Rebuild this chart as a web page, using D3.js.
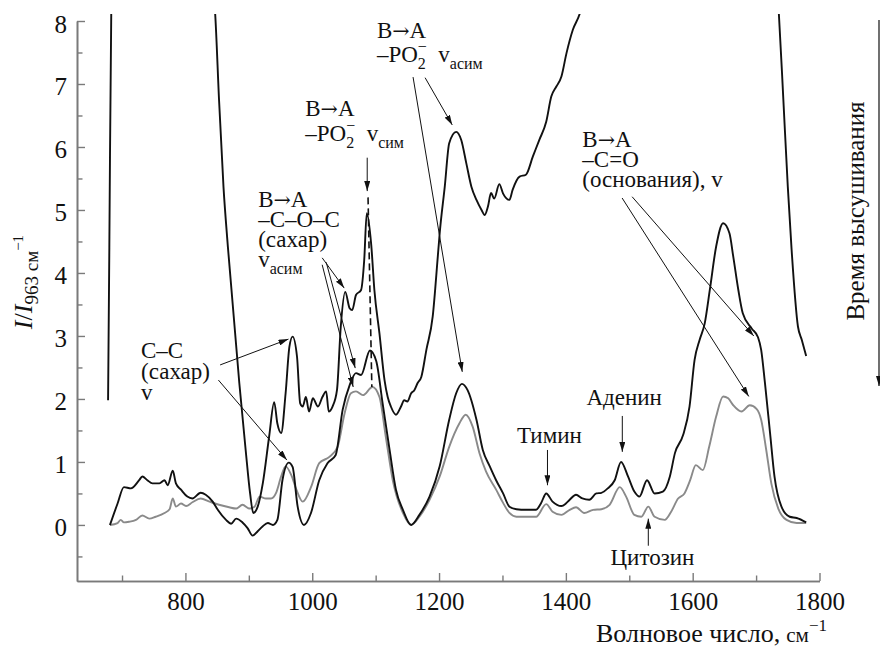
<!DOCTYPE html>
<html>
<head>
<meta charset="utf-8">
<script src="https://cdn.jsdelivr.net/npm/d3@7"></script>
</head>
<body style="margin:0">
<svg width="880" height="646"></svg>
<script>
// spectra: [wavenumber, I/I963]
// early drying (goes off scale at the water bands)
const earlySpectrum = [[678,1.98],[680,4.4],[683,8.1],[690,9.5],[760,11],[830,9.5],[847,8.1],[853,6.75],[860,5.37],[867,4.41],
  [885,2.25],[895,1.19],[902,0.5],[907,0.19],[914,0.29],[922,0.66],[932,1.4],[940,1.95],[945,1.61],[951,1.46],[958,2.09],
  [964,2.83],[969,2.99],[976,2.67],[981,1.93],[985,1.88],[990,2.03],[995,1.8],[1001,2.01],[1009,1.88],[1016,2.03],[1022,2.12],
  [1026,1.8],[1032,1.88],[1039,2.14],[1045,3.15],[1052,3.7],[1059,3.44],[1063,3.41],[1069,3.65],[1077,3.73],[1082,4.21],
  [1086,4.95],[1093,4.45],[1098,3.73],[1106,3.04],[1114,2.3],[1119,2.03],[1124,1.88],[1132,1.75],[1140,1.88],[1145,1.98],
  [1150,1.96],[1156,2.09],[1161,2.14],[1166,2.25],[1172,2.35],[1180,2.78],[1190,3.31],[1198,4.26],[1201,4.63],[1209,5.37],
  [1216,6.06],[1227,6.24],[1235,6.11],[1243,5.74],[1251,5.37],[1259,5.16],[1267,5.0],[1272,4.92],[1277,5.05],[1282,5.27],
  [1287,5.18],[1295,5.41],[1301,5.26],[1311,5.16],[1316,5.32],[1327,5.53],[1337,5.56],[1348,5.85],[1358,6.11],[1369,6.4],
  [1377,6.8],[1385,6.96],[1393,7.12],[1401,7.49],[1411,7.86],[1422,8.12],[1440,9],[1600,12],[1720,9.5],[1736,8.1],
  [1743,6.75],[1750,5.37],[1756,4.37],[1766,3.15],[1772,2.94],[1779,2.68]];

// intermediate drying
const midSpectrum = [[681,0],[693,0.34],[703,0.6],[714,0.58],[727,0.71],[732,0.77],[740,0.71],[748,0.66],[759,0.66],[767,0.71],
  [772,0.63],[780,0.86],[785,0.66],[793,0.56],[803,0.45],[811,0.42],[824,0.51],[832,0.48],[843,0.37],[851,0.24],[864,0.08],
  [872,0.02],[880,0.1],[890,0.04],[898,-0.05],[906,-0.17],[914,-0.1],[922,-0.02],[930,0.03],[938,0],[945,0.08],[953,0.71],
  [963,0.99],[969,0.92],[977,0.29],[987,0],[998,0.19],[1011,0.71],[1024,0.98],[1037,1.11],[1048,1.83],[1059,2.22],[1069,2.41],
  [1077,2.38],[1091,2.77],[1101,2.6],[1111,1.93],[1122,1.19],[1132,0.56],[1143,0.24],[1156,0],[1169,0.16],[1185,0.45],
  [1201,0.93],[1216,1.67],[1227,2.09],[1236,2.24],[1245,2.14],[1259,1.67],[1269,1.19],[1280,0.93],[1290,0.71],[1301,0.5],
  [1311,0.29],[1322,0.25],[1337,0.24],[1353,0.24],[1361,0.35],[1369,0.5],[1379,0.37],[1393,0.3],[1400,0.34],[1406,0.4],
  [1416,0.48],[1426,0.42],[1437,0.4],[1448,0.5],[1456,0.51],[1466,0.58],[1477,0.71],[1487,1.0],[1498,0.77],[1508,0.53],
  [1516,0.45],[1528,0.71],[1540,0.5],[1553,0.53],[1564,0.77],[1572,1.14],[1585,1.43],[1595,1.88],[1603,2.62],[1611,2.94],
  [1619,3.2],[1627,3.73],[1637,4.42],[1648,4.79],[1658,4.63],[1664,4.26],[1672,3.73],[1679,3.36],[1693,3.12],[1703,2.98],
  [1708,2.78],[1714,2.25],[1722,1.46],[1729,0.77],[1740,0.29],[1753,0.13],[1764,0.11],[1779,0.04]];

// final (dry) spectrum, drawn in grey
const drySpectrum = [[681,0],[693,0.03],[698,0.08],[703,0.04],[711,0.05],[722,0.08],[732,0.15],[743,0.1],[753,0.13],[767,0.19],
  [775,0.25],[780,0.42],[785,0.29],[793,0.34],[801,0.3],[811,0.36],[824,0.42],[838,0.37],[853,0.32],[869,0.28],[880,0.26],
  [890,0.32],[901,0.26],[909,0.29],[917,0.45],[927,0.42],[935,0.42],[943,0.51],[951,0.77],[958,0.93],[967,0.79],[975,0.56],
  [985,0.37],[998,0.6],[1011,0.98],[1027,1.08],[1040,1.24],[1051,1.77],[1061,2.09],[1069,2.12],[1080,2.06],[1095,2.19],
  [1106,2.03],[1116,1.4],[1127,0.71],[1143,0.19],[1156,0],[1169,0.13],[1185,0.4],[1201,0.77],[1216,1.24],[1232,1.61],
  [1242,1.75],[1253,1.56],[1264,1.13],[1274,0.85],[1290,0.56],[1301,0.35],[1311,0.19],[1322,0.13],[1337,0.13],[1353,0.13],
  [1369,0.33],[1379,0.21],[1393,0.16],[1406,0.24],[1416,0.28],[1429,0.19],[1443,0.24],[1456,0.25],[1469,0.32],[1485,0.6],
  [1495,0.45],[1508,0.16],[1519,0.13],[1530,0.29],[1540,0.13],[1556,0.08],[1566,0.21],[1577,0.42],[1587,0.5],[1596,0.71],
  [1605,0.95],[1616,0.87],[1626,1.24],[1637,1.72],[1648,2.04],[1656,2.01],[1664,1.9],[1677,1.8],[1690,1.9],[1701,1.84],
  [1708,1.67],[1716,1.19],[1724,0.66],[1735,0.26],[1748,0.08],[1764,0.03],[1779,0.03]];

const xMajor = [800, 1000, 1200, 1400, 1600, 1800];
const xMinor = [700, 900, 1100, 1300, 1500, 1700];
const yMajor = [0, 1, 2, 3, 4, 5, 6, 7, 8];
const yMinor = [-0.5, 0.5, 1.5, 2.5, 3.5, 4.5, 5.5, 6.5, 7.5];

// text blocks: anchor point in data units, lines with _{sub} ^{sup}, "|" = wide gap
const labels = [
  { at: [1102, 7.73], lh: 24, lines: ['B→A', '–PO_{2}^{−}|v_{асим}'] },
  { at: [989, 6.49], lh: 25, lines: ['B→A', '–PO_{2}^{−}|v_{сим}'] },
  { at: [914.7, 5.05], lh: 20, lines: ['B→A', '–C–O–C', '(сахар)', 'v_{асим}'] },
  { at: [730, 2.65], lh: 21, lines: ['C–C', '(сахар)', 'v'] },
  { at: [1426, 6.0], lh: 20, lines: ['B→A', '–C=O', '(основания), v'] },
  { at: [1374, 1.3], lh: 20, lines: ['Тимин'], anchor: 'middle' },
  { at: [1492, 1.9], lh: 20, lines: ['Аденин'], anchor: 'middle' },
  { at: [1536.5, -0.63], lh: 20, lines: ['Цитозин'], anchor: 'middle' }
];
const arrows = [
  [[1159, 7.11], [1236.6, 2.43]], [[1178, 7.1], [1220.8, 6.35]],
  [[1086.7, 5.83], [1086.7, 5.3]],
  [[1015.7, 4.24], [1050.4, 3.76]], [[1022, 4.17], [1067.8, 2.49]], [[1015.7, 4.13], [1064.6, 2.19]],
  [[854.7, 2.54], [962.5, 2.95]], [[852, 2.3], [960, 1.03]],
  [[1488.7, 5.19], [1688.5, 2.04]], [[1504.5, 5.21], [1696.4, 3.0]],
  [[1371, 1.19], [1371, 0.63]], [[1489, 1.73], [1489, 1.16]], [[1530, -0.33], [1530, 0.1]]
];
const dashed = [[1088, 5.2], [1094, 2.19]];

const SERIF = '"Liberation Serif"';
const svg = d3.select('svg');
const x = d3.scaleLinear().domain([629, 1800]).range([77, 819.5]);
const y = d3.scaleLinear().domain([-0.89, 8]).range([581, 21]);
const axisColor = '#7a7a7a';

const defs = svg.append('defs');
defs.append('clipPath').attr('id', 'plot')
  .append('rect').attr('x', 77).attr('y', 14).attr('width', 745).attr('height', 567);
defs.append('marker').attr('id', 'head')
  .attr('viewBox', '0 0 10 6').attr('refX', 10).attr('refY', 3)
  .attr('markerWidth', 10).attr('markerHeight', 6).attr('markerUnits', 'userSpaceOnUse')
  .attr('orient', 'auto')
  .append('path').attr('d', 'M0,0L10,3L0,6Z').attr('fill', '#111');

// axes
function styleAxis(g) {
  g.attr('color', axisColor);
  g.select('.domain').attr('stroke-width', 1.6);
  g.selectAll('.tick line').attr('stroke-width', 1.4);
  g.selectAll('.tick text').attr('fill', '#111')
    .attr('font-family', SERIF).attr('font-size', 25);
}
svg.append('g').attr('transform', 'translate(0,581)')
  .call(d3.axisBottom(x).tickValues(xMinor).tickSize(-5.5).tickSizeOuter(0).tickFormat(''))
  .call(styleAxis);
svg.append('g').attr('transform', 'translate(0,581)')
  .call(d3.axisBottom(x).tickValues(xMajor).tickSize(-8).tickSizeOuter(0).tickPadding(11).tickFormat(d3.format('d')))
  .call(styleAxis);
svg.append('g').attr('transform', 'translate(77,0)')
  .call(d3.axisLeft(y).tickValues(yMinor).tickSize(-5.5).tickSizeOuter(0).tickFormat(''))
  .call(styleAxis);
svg.append('g').attr('transform', 'translate(77,0)')
  .call(d3.axisLeft(y).tickValues(yMajor).tickSize(-8).tickSizeOuter(0).tickPadding(10))
  .call(styleAxis)
  .call(g => g.selectAll('.tick text').attr('dy', '0.44em'));

// spectra
const line = d3.line().x(d => x(d[0])).y(d => y(d[1])).curve(d3.curveMonotoneX);
const plot = svg.append('g').attr('clip-path', 'url(#plot)');
plot.append('path').datum(drySpectrum).attr('d', line)
  .attr('fill', 'none').attr('stroke', '#8a8a8a').attr('stroke-width', 1.9);
plot.selectAll('path.black').data([midSpectrum, earlySpectrum]).enter()
  .append('path').attr('class', 'black').attr('d', line)
  .attr('fill', 'none').attr('stroke', '#111').attr('stroke-width', 1.9);

// rich text: _{..} subscript, ^{..} superscript (over a preceding subscript), "→" in a tighter font
function rich(t, str, size) {
  const re = /([_^])\{([^}]*)\}|(\|)|(→)|([^_^|→]+)/g;
  let m, shift = 0, prevSub = null, gap = 0;
  while ((m = re.exec(str))) {
    if (m[3]) { gap = size * 0.5; continue; }
    if (m[4] || m[5]) {
      const ts = t.append('tspan').attr('dy', -shift).attr('dx', gap).attr('font-size', size).text(m[4] || m[5]);
      if (m[4]) ts.attr('font-family', '"DejaVu Serif"').attr('font-size', size * 0.9);
      shift = 0; prevSub = null; gap = 0;
    } else {
      const sz = Math.round(size * 0.7);
      const off = m[1] === '_' ? size * 0.3 : -size * 0.45;
      const ts = t.append('tspan').attr('font-size', sz).attr('dy', off - shift).text(m[2]);
      if (m[1] === '^' && prevSub) ts.attr('dx', -sz * 0.5 * prevSub.length);
      prevSub = m[1] === '_' ? m[2] : null;
      shift = off;
    }
  }
}

labels.forEach(l => {
  l.lines.forEach((s, i) => {
    const t = svg.append('text').attr('font-family', SERIF).attr('fill', '#111')
      .attr('x', x(l.at[0])).attr('y', y(l.at[1]) + i * l.lh)
      .attr('text-anchor', l.anchor || 'start');
    rich(t, s, 23);
  });
});

svg.selectAll('line.arrow').data(arrows).enter().append('line')
  .attr('class', 'arrow')
  .attr('x1', d => x(d[0][0])).attr('y1', d => y(d[0][1]))
  .attr('x2', d => x(d[1][0])).attr('y2', d => y(d[1][1]))
  .attr('stroke', '#111').attr('stroke-width', 1).attr('marker-end', 'url(#head)');

svg.append('line')
  .attr('x1', x(dashed[0][0])).attr('y1', y(dashed[0][1]))
  .attr('x2', x(dashed[1][0])).attr('y2', y(dashed[1][1]))
  .attr('stroke', '#111').attr('stroke-width', 1.6).attr('stroke-dasharray', '7,4');

// axis titles
const xt = svg.append('text').attr('font-family', SERIF).attr('fill', '#111')
  .attr('x', 827).attr('y', 642).attr('text-anchor', 'end').attr('font-size', 26);
xt.append('tspan').text('Волновое число,');
xt.append('tspan').attr('dx', 6).attr('font-size', 21).text('см');
xt.append('tspan').attr('font-size', 17).attr('dy', -11).text('−1');

const yt = svg.append('text').attr('font-family', SERIF).attr('fill', '#111')
  .attr('transform', 'translate(32,282) rotate(-90)')
  .attr('text-anchor', 'middle').attr('font-size', 26);
yt.append('tspan').attr('font-style', 'italic').text('I');
yt.append('tspan').text('/');
yt.append('tspan').attr('font-style', 'italic').text('I');
yt.append('tspan').attr('font-size', 19).attr('dy', 6).text('963 см');
yt.append('tspan').attr('font-size', 15).attr('dy', -15).text('−1');

// drying-time arrow on the right
svg.append('text').attr('font-family', SERIF).attr('fill', '#111')
  .attr('transform', 'translate(864,211) rotate(-90)')
  .attr('text-anchor', 'middle').attr('font-size', 25).text('Время высушивания');
svg.append('line').attr('x1', 879).attr('y1', 20).attr('x2', 879).attr('y2', 386)
  .attr('stroke', '#111').attr('stroke-width', 1.2).attr('marker-end', 'url(#head)');
</script>
</body>
</html>
